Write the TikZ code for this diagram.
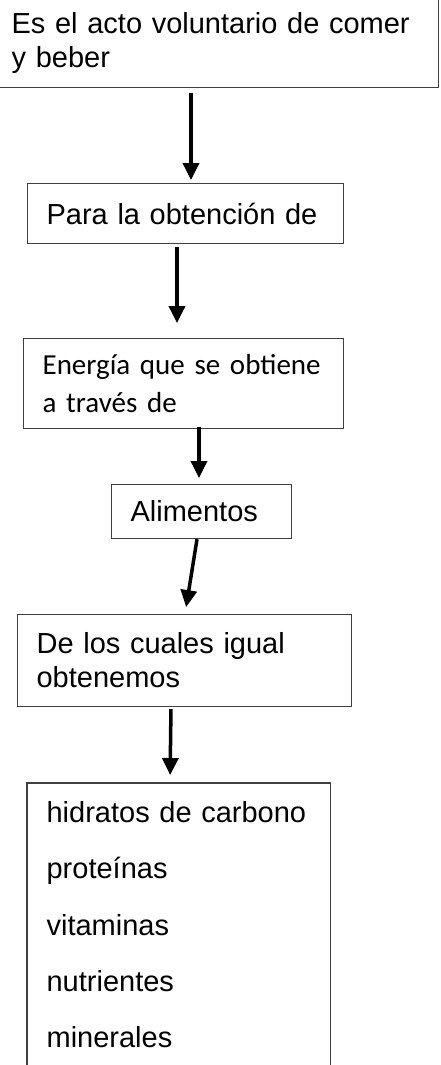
\documentclass[tikz,border=0pt]{standalone}
\usepackage{fontspec}
\setmainfont{Liberation Sans}
\newfontfamily\carlito{Carlito}
\usetikzlibrary{arrows.meta}

\tikzset{
  box/.style={draw=black!75, line width=1.2pt, anchor=north west, align=left,
    inner xsep=19pt, inner ysep=0pt, text width=#1, font=\fontsize{29}{34}\selectfont},
  flecha/.style={line width=3.5pt, -{Triangle[length=17pt,width=16pt]}}
}

\begin{document}
\begin{tikzpicture}[x=1pt, y=-1pt]
			\useasboundingbox (0,0) rectangle (441,1065);
			% Define the nodes
			\node (acto) [box=407.5pt, minimum height=88.5pt] at (-8,-1.5) {Es el acto voluntario de comer\\y beber};
			\node (obtencion) [box=278pt, minimum height=60pt] at (27,183) {Para la obtención de};
			\node (energia) [box=282pt, minimum height=90pt, font=\carlito\fontsize{29}{38}\selectfont] at (23,338) {Energía que se obtiene\\a través de};
			\node (alimentos) [box=142pt, minimum height=54pt] at (111,484) {Alimentos};
			\node (cuales) [box=296pt, minimum height=92pt] at (17,614) {De los cuales igual\\obtenemos};
			\node (lista) [box=264pt, draw=none, inner ysep=18pt, font=\fontsize{29}{56.3}\selectfont] at (27,783)
				{hidratos de carbono\\proteínas\\vitaminas\\nutrientes\\minerales};
			\draw [draw=black!75, line width=1.2pt] ([yshift=-12pt]lista.south west) -- (lista.north west) -- (lista.north east) -- ([yshift=-12pt]lista.south east);
			% Connect the nodes
			\draw [flecha, shorten <=5pt, shorten >=3pt] (acto.south -| 191,0) -- (obtencion.north -| 191,0);
			\draw [flecha, shorten <=3pt, shorten >=15pt] (obtencion.south -| 177,0) -- (energia.north -| 177,0);
			\draw [flecha, shorten <=-2pt, shorten >=6pt] (energia.south -| 199,0) -- (alimentos.north -| 199,0);
			\draw [flecha, shorten >=7pt] (alimentos.south -| 197,0) -- (cuales.north -| 185,0);
			\draw [flecha, shorten <=2pt, shorten >=8pt] (cuales.south -| 171,0) -- (lista.north -| 170,0);
		\end{tikzpicture}
\end{document}
